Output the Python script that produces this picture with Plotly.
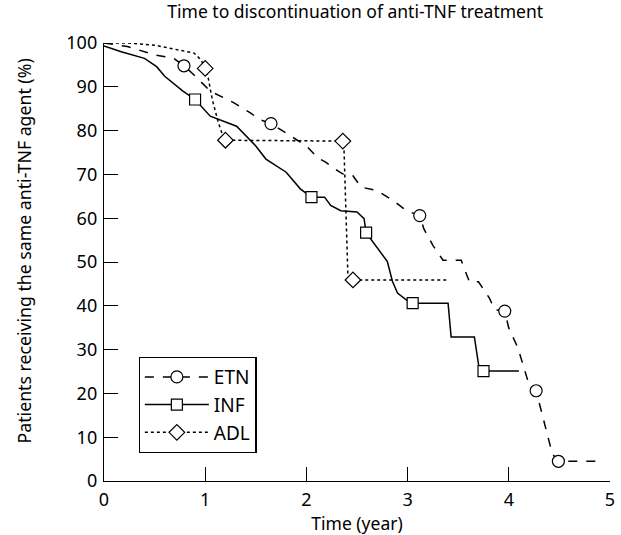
import plotly.graph_objects as go

# ETN (dashed, circles)
etn_x = [0, 0.23, 0.5, 0.69, 0.79, 0.89, 1.05, 1.28, 1.45, 1.54, 1.65, 1.84, 2.0, 2.11, 2.19, 2.33,
         2.37, 2.46, 2.54, 2.70, 2.86, 2.99, 3.12, 3.16, 3.25, 3.35, 3.53, 3.61, 3.70, 3.81, 3.86,
         3.96, 4.0, 4.09, 4.2, 4.27, 4.43, 4.49, 4.87]
etn_y = [100, 99.2, 97.3, 96.5, 94.8, 92.7, 89, 86.4, 84, 82.5, 81.6, 78.8, 76.5, 73.8, 72.8, 70.5,
         70, 69.7, 67.1, 66.3, 64, 61.7, 60.6, 57.6, 53.8, 50.4, 50.4, 45.5, 45.5, 41.7, 39.1,
         38.8, 34.9, 30.4, 22, 20.6, 6.2, 4.5, 4.5]
etn_mx = [0.79, 1.65, 3.12, 3.96, 4.27, 4.49]
etn_my = [94.8, 81.6, 60.6, 38.8, 20.6, 4.5]

# INF (solid, squares)
inf_x = [0, 0.1, 0.17, 0.4, 0.52, 0.6, 0.78, 0.9, 1.05, 1.22, 1.31, 1.5, 1.6, 1.8, 1.94, 2.05, 2.18,
         2.24, 2.34, 2.5, 2.57, 2.59, 2.8, 2.85, 2.9, 2.99, 3.05, 3.4, 3.43, 3.66, 3.71, 3.75, 4.1]
inf_y = [99.3, 98.5, 98, 96.5, 94.6, 92.4, 89, 87.1, 83.3, 81.8, 81, 76.5, 73.5, 70.5, 66.7, 64.8, 64.8,
         62.9, 61.7, 61.4, 59.9, 56.7, 50.1, 45.6, 42.9, 41.3, 40.6, 40.6, 32.9, 32.9, 25.2, 25.1, 25.1]
inf_mx = [0.9, 2.05, 2.59, 3.05, 3.75]
inf_my = [87.1, 64.8, 56.7, 40.6, 25.1]

# ADL (dotted, diamonds)
adl_x = [0, 0.24, 0.5, 0.89, 0.96, 1.0, 1.03, 1.04, 1.07, 1.13, 1.17, 1.2, 2.36, 2.37, 2.41, 2.46, 3.4]
adl_y = [100, 100, 99.5, 97.7, 96.1, 94.2, 92, 90.9, 87.1, 81.8, 79.1, 77.8, 77.6, 77, 47, 45.9, 45.9]
adl_mx = [1.0, 1.2, 2.36, 2.46]
adl_my = [94.2, 77.8, 77.6, 45.9]

x_ticks = [0, 1, 2, 3, 4, 5]
y_ticks = [0, 10, 20, 30, 40, 50, 60, 70, 80, 90, 100]

FONT = "Noto Sans"
series = [
    ("ETN", etn_x, etn_y, etn_mx, etn_my, "dash", "circle"),
    ("INF", inf_x, inf_y, inf_mx, inf_my, "solid", "square"),
    ("ADL", adl_x, adl_y, adl_mx, adl_my, "dot", "diamond"),
]

def mk(sym):
    return dict(symbol=sym, size=12 if sym != "square" else 11, color="white",
                line=dict(color="black", width=1.2))

fig = go.Figure()
for name, x, y, mx, my, dash, sym in series:
    fig.add_trace(go.Scatter(x=x, y=y, mode="lines", showlegend=False,
                             line=dict(color="black", width=1.5, dash=dash), hoverinfo="skip"))
for name, x, y, mx, my, dash, sym in series:
    fig.add_trace(go.Scatter(x=mx, y=my, mode="markers", showlegend=False, cliponaxis=False,
                             marker=mk(sym)))
for name, x, y, mx, my, dash, sym in series:
    fig.add_trace(go.Scatter(x=[None], y=[None], mode="lines+markers", name=name,
                             line=dict(color="black", width=1.5, dash=dash), marker=mk(sym)))

fig.update_layout(
    width=621, height=535,
    margin=dict(l=104, r=6, t=43, b=51),
    paper_bgcolor="white", plot_bgcolor="white",
    font=dict(family=FONT, size=17, color="black"),
    title=dict(text="Time to discontinuation of anti-TNF treatment", x=0.572, xanchor="center",
               y=0.9785, yanchor="middle", font=dict(family=FONT, size=17.5, color="black")),
    xaxis=dict(range=[0, 5], tickvals=x_ticks, ticktext=[str(v) for v in x_ticks],
               ticks="inside", ticklen=14, tickwidth=1.2, tickcolor="black",
               showline=True, linecolor="black", linewidth=1.4, showgrid=False, zeroline=False,
               tickfont=dict(size=18), ticklabelstandoff=2,
               title=dict(text="Time (year)", font=dict(size=17.5), standoff=6)),
    yaxis=dict(range=[0, 100], tickvals=y_ticks, ticktext=[str(v) for v in y_ticks],
               ticks="inside", ticklen=14, tickwidth=1.2, tickcolor="black",
               showline=True, linecolor="black", linewidth=1.4, showgrid=False, zeroline=False,
               tickfont=dict(size=18), ticklabelstandoff=2),
    legend=dict(x=0.0685, y=0.2834, xanchor="left", yanchor="top", bgcolor="white",
                bordercolor="black", borderwidth=1.2, font=dict(size=19),
                itemwidth=64, tracegroupgap=4),
    annotations=[dict(text="Patients receiving the same anti-TNF agent (%)", textangle=-90,
                      xref="paper", yref="paper", x=-0.1585, y=0.526,
                      xanchor="center", yanchor="middle", showarrow=False,
                      font=dict(size=17.7, family=FONT, color="black"))],
)

fig.write_html("out.html", config={"displayModeBar": False},
               post_script="document.body.style.margin='0';document.body.style.padding='0';")
